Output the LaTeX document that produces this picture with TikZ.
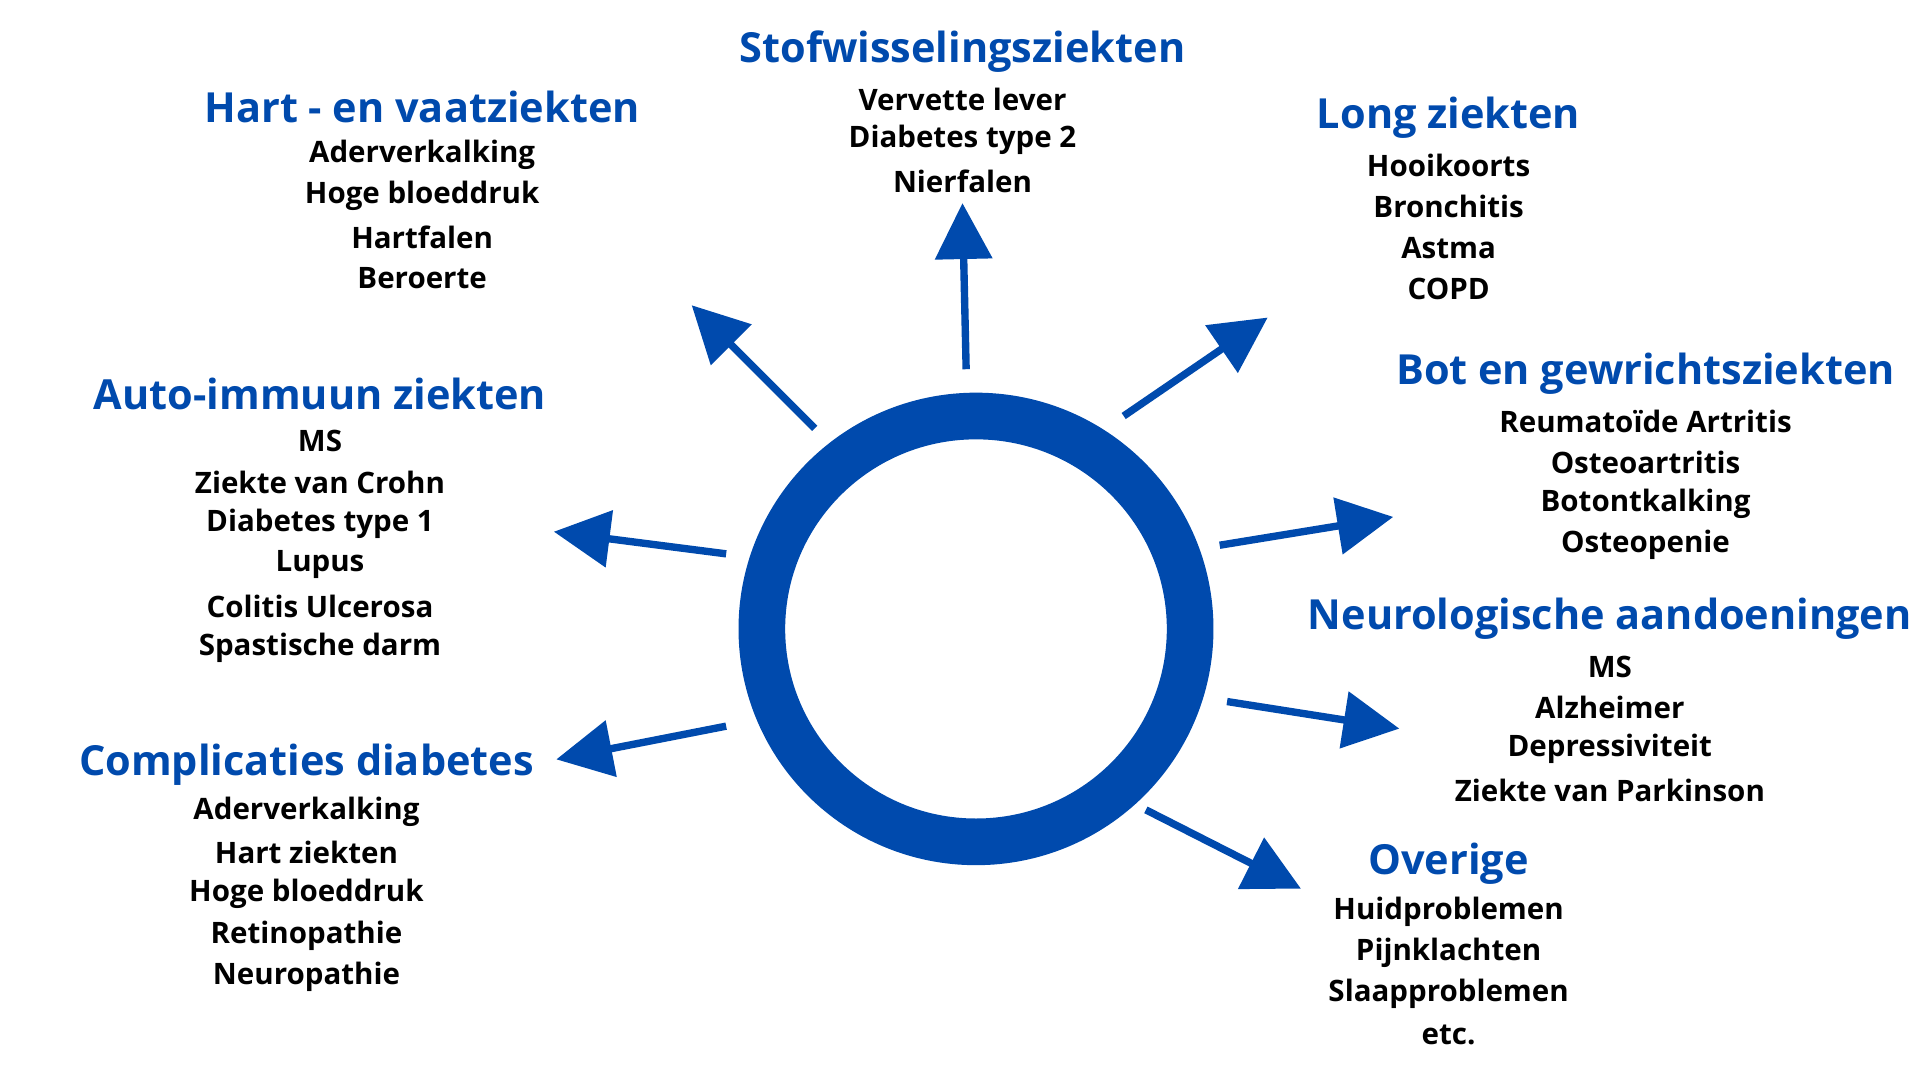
\documentclass[tikz,border=0pt]{standalone}
\usepackage{fontspec}
\setmainfont{Open Sans}
\usetikzlibrary{arrows.meta}
\definecolor{myblue}{HTML}{004AAD}
\begin{document}
\begin{tikzpicture}[x=0.012308cm,y=-0.012308cm,
  ttl/.style={font=\bfseries\fontsize{11.8}{14}\selectfont,text=myblue,inner sep=0},
  itm/.style={font=\bfseries\fontsize{8.4}{10}\selectfont,text=black,inner sep=0},
  arr/.style={draw=myblue,line width=2.1pt,-{Triangle[length=0.56cm,width=0.56cm]}}]
\useasboundingbox (0,0) rectangle (1560,877.5);
\draw[myblue,line width=0.467cm] (793,511) ellipse [x radius=174,y radius=173];
% titles and items
\newcommand{\blk}[5]{% name, x, ytitle, title, items
  \node[ttl] (#1) at (#2,#3) {#4};
  \foreach \t [count=\k] in {#5} {\node[itm] (#1-\k) at (#2,#3+\k*33.5+5) {\t};}}
\blk{stof}{782}{42}{Stofwisselingsziekten}{Vervette lever,Diabetes type 2,Nierfalen}
\blk{hart}{343}{87}{Hart - en vaatziekten}{Aderverkalking,Hoge bloeddruk,Hartfalen,Beroerte}
\blk{long}{1177}{96}{Long ziekten}{Hooikoorts,Bronchitis,Astma,COPD}
\blk{bot}{1337}{304}{Bot en gewrichtsziekten}{Reumatoïde Artritis,Osteoartritis,Botontkalking,Osteopenie}
\blk{neuro}{1308}{503}{Neurologische aandoeningen}{MS,Alzheimer,Depressiviteit,Ziekte van Parkinson}
\blk{over}{1177}{702}{Overige}{Huidproblemen,Pijnklachten,Slaapproblemen,etc.}
\blk{auto}{260}{320}{Auto-immuun ziekten}{MS,Ziekte van Crohn,Diabetes type 1,Lupus,Colitis Ulcerosa,Spastische darm}
\blk{comp}{249}{621}{Complicaties diabetes}{Aderverkalking,Hart ziekten,Hoge bloeddruk,Retinopathie,Neuropathie}
% arrows
\foreach \n/\a/\b/\c/\d in {1/662/348/562/248, 2/785/300/782/165, 3/913/338/1030/258, 4/991/443/1132/420, 5/997/570/1137/592, 6/931/658/1057/722, 7/590/590/452/617, 8/590/450/450/432}{
  \coordinate (s\n) at (\a,\b); \coordinate (e\n) at (\c,\d);
  \draw[arr] (s\n) -- (e\n);}
\end{tikzpicture}
\end{document}
